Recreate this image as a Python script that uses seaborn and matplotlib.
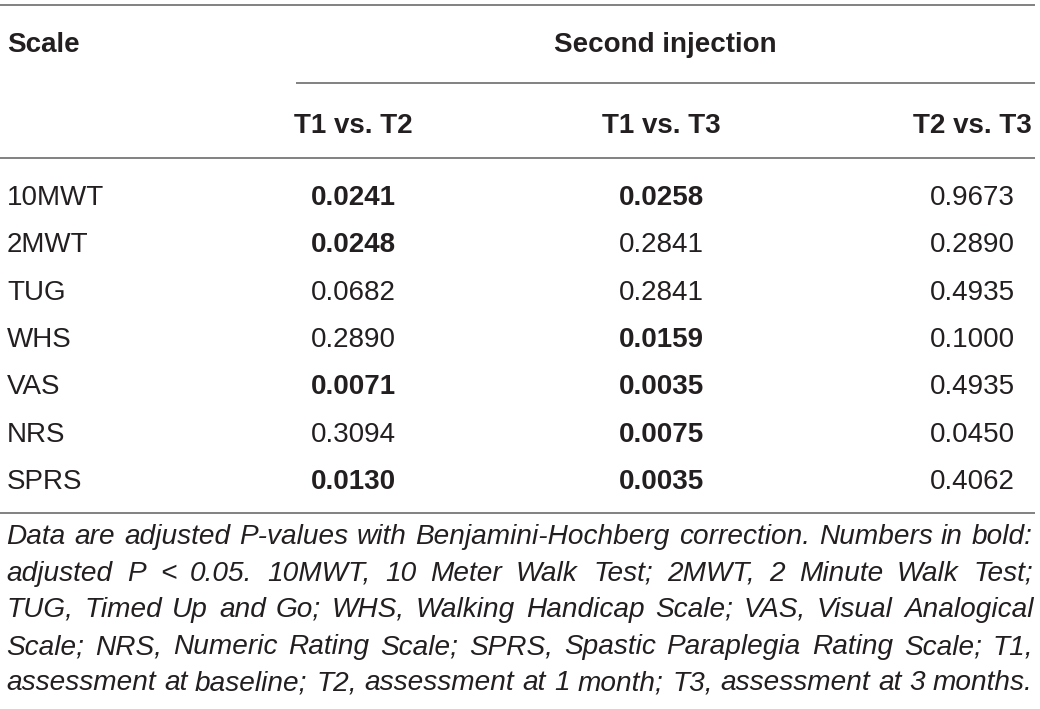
import numpy as np
import pandas as pd
import matplotlib
matplotlib.use("Agg")
import matplotlib.pyplot as plt
import seaborn as sns


# Table data

scales = ["10MWT", "2MWT", "TUG", "WHS", "VAS", "NRS", "SPRS"]
comparisons = ["T1 vs. T2", "T1 vs. T3", "T2 vs. T3"]
group_label = "Second injection"
first_col_label = "Scale"

t1_vs_t2 = ["0.0241", "0.0248", "0.0682", "0.2890", "0.0071", "0.3094", "0.0130"]
t1_vs_t3 = ["0.0258", "0.2841", "0.2841", "0.0159", "0.0035", "0.0075", "0.0035"]
t2_vs_t3 = ["0.9673", "0.2890", "0.4935", "0.1000", "0.4935", "0.0450", "0.4062"]

bold_t1_vs_t2 = [True, True, False, False, True, False, True]
bold_t1_vs_t3 = [True, False, False, True, True, True, True]
bold_t2_vs_t3 = [False, False, False, False, False, False, False]

footnote_lines = [
    "Data are adjusted P-values with Benjamini-Hochberg correction. Numbers in bold:",
    "adjusted P < 0.05. 10MWT, 10 Meter Walk Test; 2MWT, 2 Minute Walk Test;",
    "TUG, Timed Up and Go; WHS, Walking Handicap Scale; VAS, Visual Analogical",
    "Scale; NRS, Numeric Rating Scale; SPRS, Spastic Paraplegia Rating Scale; T1,",
    "assessment at baseline; T2, assessment at 1 month; T3, assessment at 3 months.",
]

df = pd.DataFrame({"Scale": scales,
                   comparisons[0]: t1_vs_t2,
                   comparisons[1]: t1_vs_t3,
                   comparisons[2]: t2_vs_t3})
bold = pd.DataFrame({comparisons[0]: bold_t1_vs_t2,
                     comparisons[1]: bold_t1_vs_t3,
                     comparisons[2]: bold_t2_vs_t3})

# --------------------------------------------------------------
# Style

sns.set_theme(style="white")
plt.rcParams["font.family"] = ["Liberation Sans", "DejaVu Sans"]
plt.rcParams["text.hinting"] = "force_autohint"

TEXT = "#231f20"
RULE = "#777777"
W, H = 1040, 709

fig = plt.figure(figsize=(W / 100, H / 100), dpi=100)
ax = fig.add_axes([0, 0, 1, 1])
ax.set_xlim(0, W)
ax.set_ylim(H, 0)
ax.axis("off")

col_x = [353, 661, 972]
row_base = 205
row_step = 47.3

# header
ax.text(7, 52, first_col_label, fontsize=20, fontweight="bold", color=TEXT, va="baseline")
ax.text(665, 52, group_label, fontsize=20, fontweight="bold", color=TEXT,
        ha="center", va="baseline")
for cx, name in zip(col_x, comparisons):
    ax.text(cx, 133, name, fontsize=20, fontweight="bold", color=TEXT,
            ha="center", va="baseline")

# rules
ax.hlines(5, 0, 1035, color=RULE, lw=1.3)
ax.hlines(83, 296, 1035, color=RULE, lw=1.3)
ax.hlines(158, 0, 1035, color=RULE, lw=1.3)
ax.hlines(513, 0, 1035, color=RULE, lw=1.3)

# body
for i, row in df.iterrows():
    y = round(row_base + i * row_step)
    ax.text(7, y, row["Scale"], fontsize=20, color=TEXT, va="baseline")
    for cx, name in zip(col_x, comparisons):
        weight = "bold" if bold.loc[i, name] else "normal"
        ax.text(cx, y, row[name], fontsize=20, fontweight=weight, color=TEXT,
                ha="center", va="baseline")

# footnote, justified between left and right edge
renderer = fig.canvas.get_renderer()
left, right = 6, 1033
foot_base = 544
foot_step = 36.6

# pick font size so the longest line fits naturally
base_fs = 16.0
probe = [ax.text(0, 0, l, fontsize=base_fs, fontstyle="italic") for l in footnote_lines]
widest = max(p.get_window_extent(renderer).width for p in probe)
for p in probe:
    p.remove()
foot_fs = base_fs * (right - left - 4) / widest

for j, line in enumerate(footnote_lines):
    y = round(foot_base + j * foot_step)
    words = line.split(" ")
    texts = []
    widths = []
    for w in words:
        t = ax.text(0, y, w, fontsize=foot_fs, fontstyle="italic", color=TEXT, va="baseline")
        texts.append(t)
        widths.append(t.get_window_extent(renderer).width)
    gap = (right - left - sum(widths)) / (len(words) - 1)
    x = left
    for t, wd in zip(texts, widths):
        t.set_x(round(x))
        x += wd + gap

fig.savefig("out.png", dpi=100)
